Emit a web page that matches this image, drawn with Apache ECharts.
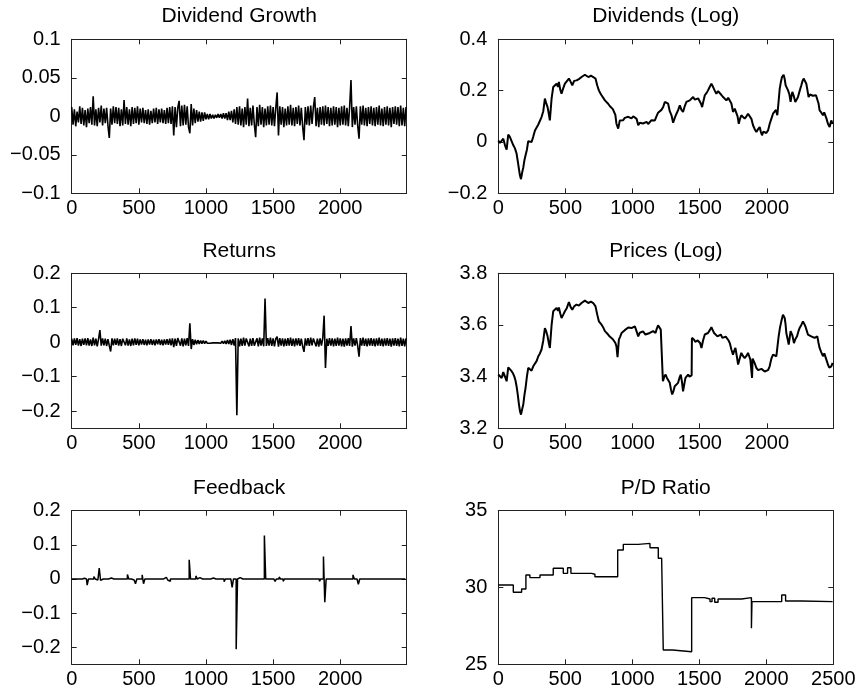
<!DOCTYPE html>
<html>
<head>
<meta charset="utf-8">
<script src="https://cdn.jsdelivr.net/npm/echarts@6/dist/echarts.min.js"></script>
<style>
  html, body { margin: 0; padding: 0; background: #fff; }
  #chart { width: 860px; height: 694px; }
</style>
</head>
<body>
<div id="chart"></div>
<script>
// sample spacing (time steps) of the noisy series below
const step = 10;

const titles = ["Dividend Growth", "Dividends (Log)", "Returns", "Prices (Log)", "Feedback", "P/D Ratio"];
const xTicks = [0, 500, 1000, 1500, 2000];
const xTicksPD = [0, 500, 1000, 1500, 2000, 2500];
const yTicksGrowth = [-0.1, -0.05, 0, 0.05, 0.1];
const yTicksDiv = [-0.2, 0, 0.2, 0.4];
const yTicksRet = [-0.2, -0.1, 0, 0.1, 0.2];
const yTicksPrice = [3.2, 3.4, 3.6, 3.8];
const yTicksPD = [25, 30, 35];

// dividend growth, one value every 10 steps
const growth = [
  .012,-.011,.009,-.013,.006,-.008,.013,-.010,.011,-.012,.008,-.014,.010,-.009,.012,-.011,.026,-.012,.009,-.013,.011,-.008,.014,-.012,.010,
  -.009,.011,-.012,-.028,.010,-.011,.013,-.009,.012,-.010,.011,-.013,.009,-.012,.021,-.010,.012,-.011,.009,-.013,.012,-.010,.011,-.009,.013,
  -.011,.010,-.008,.011,-.009,.008,-.010,.009,-.011,.007,-.009,.010,-.008,.011,-.010,.009,-.008,.010,-.009,.008,-.010,.011,-.009,.012,-.010,
  .013,-.025,.012,-.014,.011,.020,-.013,.014,-.012,.015,-.011,.013,-.014,-.022,.016,-.012,.010,-.009,.008,-.007,.006,-.007,.005,-.006,.005,
  -.004,.003,-.004,.003,-.003,.002,-.003,.002,-.002,.003,-.002,.003,-.003,.004,-.003,.004,-.005,.006,-.005,.007,-.008,.009,-.010,.012,-.011,
  .013,-.012,.010,-.014,.012,-.011,.023,-.013,.011,-.012,.014,-.010,-.027,.012,-.013,.015,-.011,.012,-.014,.010,-.012,.013,-.011,.014,-.012,
  .012,-.013,.011,.031,-.025,.013,-.011,.012,-.014,.010,-.012,.013,-.011,.015,-.012,.011,-.013,.012,-.010,.014,-.012,.011,-.013,-.031,.012,
  -.011,.013,-.012,.014,-.010,.012,.025,-.013,.011,-.014,.012,-.011,.013,-.012,.014,-.010,.012,-.013,.011,-.012,.013,-.011,.012,-.014,.011,
  -.012,.013,-.011,.014,-.012,.011,-.013,.012,.047,-.014,.012,-.011,.013,-.012,-.029,.013,-.011,.014,-.012,.011,-.013,.012,-.010,.013,-.012,
  .011,-.013,.012,-.011,.014,-.012,.010,-.013,.012,-.011,.013,-.012,.011,-.014,.012,-.010,.013,-.011,.012,-.013,.014,-.012,.011,-.013,.012
];

// returns, one value every 10 steps
const returns = [
  .010,-.009,.011,-.008,.012,-.010,.009,-.011,.010,-.008,.011,-.009,.012,-.010,.008,-.011,.013,-.009,.010,-.012,.009,.035,-.010,.011,-.009,
  .010,-.011,.009,-.010,-.027,.011,-.009,.010,-.008,.011,-.010,.009,-.011,.010,.014,-.009,.011,-.010,.008,-.011,.010,-.009,.011,-.008,.010,
  -.009,.008,-.007,.009,-.008,.007,-.009,.008,-.007,.009,-.008,.007,-.009,.008,-.006,.009,-.008,.007,-.009,.008,-.007,.009,-.008,.010,-.009,
  .011,-.014,.010,-.011,.012,.015,-.010,.011,-.012,.010,-.009,.012,-.011,.055,-.020,.009,-.008,.007,-.006,.006,-.005,.005,-.004,.005,-.004,
  .003,-.003,.002,-.003,.002,-.002,.003,-.002,.002,-.002,.003,-.003,.003,-.004,.004,-.005,.006,-.005,.007,-.008,.009,-.010,.012,-.212,.011,
  -.012,.010,-.011,.013,-.010,.011,.015,-.012,.010,-.011,.012,-.010,-.014,.011,-.012,.013,-.010,.011,-.012,.127,-.011,.012,-.010,.013,-.011,
  .011,-.012,.010,.016,-.013,.012,-.010,.011,-.012,.010,-.011,.012,-.010,.013,-.011,.010,-.012,.011,-.009,.012,-.011,.010,-.012,-.028,.011,
  -.010,.012,-.011,.013,-.009,.011,.014,-.012,.010,-.013,.011,-.010,.012,.077,-.075,.010,-.011,.012,-.010,.011,-.012,.010,-.011,.013,-.010,
  .011,-.012,.010,-.013,.011,-.010,.012,-.011,.047,-.013,.011,-.010,.012,-.011,-.042,.012,-.010,.013,-.011,.010,-.012,.011,-.010,.012,-.011,
  .010,-.012,.011,-.010,.013,-.011,.010,-.012,.011,-.010,.012,-.011,.010,-.013,.011,-.010,.012,-.011,.010,-.012,.013,-.011,.010,-.012,.011
];

// feedback, one value every 10 steps
const feedback = [
  0,0,0,0,0,0,0,0,0,0,.002,0,-.018,0,0,0,0,.007,0,-.003,0,.032,-.004,0,0,
  0,-.002,0,0,.003,0,0,.005,0,-.002,0,0,0,0,0,.003,0,.013,0,0,0,-.003,0,-.014,0,
  0,0,0,.012,-.014,0,0,0,0,0,0,0,0,0,0,0,0,0,0,0,.005,0,-.003,-.007,0,
  0,0,0,0,0,0,0,0,0,0,0,0,0,.056,0,0,0,0,.009,0,.004,0,0,0,0,
  0,0,0,0,0,.003,0,0,0,0,0,0,0,0,-.008,0,0,0,0,0,-.025,0,0,-.206,0,
  .004,0,0,0,0,0,0,0,0,0,0,0,0,0,0,0,0,0,0,.127,0,0,0,0,0,
  0,0,-.007,0,0,.006,0,0,-.007,0,0,.004,0,0,0,0,0,0,0,.005,0,0,0,0,0,
  0,0,0,0,0,0,0,0,.003,0,-.007,0,0,.066,-.068,0,0,0,0,0,0,.002,0,0,0,
  0,0,0,0,0,0,0,0,0,0,.012,0,0,0,-.016,0,0,0,0,0,0,0,0,0,0,
  0,0,0,0,0,0,0,0,0,0,0,0,0,0,0,0,0,0,0,0,0,0,0,0,0
];

// log dividends
const divT = [0,12,25,37,50,62,74,86,99,112,124,136,148,161,169,178,186,195,203,213,223,235,248,260,273,285,298,310,322,335,347,357,367,376,384,397,409,420,434,445,451,461,471,484,496,510,526,538,551,565,583,600,620,632,645,657,670,690,707,724,737,749,760,769,782,794,806,818,830,843,853,863,872,880,893,905,918,930,942,955,968,980,992,1005,1017,1030,1042,1054,1066,1078,1091,1104,1116,1128,1141,1153,1166,1178,1190,1203,1215,1228,1240,1252,1265,1277,1290,1302,1315,1327,1340,1352,1364,1376,1389,1401,1414,1426,1439,1451,1464,1476,1488,1500,1509,1518,1528,1538,1550,1562,1575,1587,1600,1612,1624,1637,1649,1662,1674,1687,1699,1712,1724,1736,1748,1761,1773,1782,1791,1800,1810,1822,1835,1848,1860,1872,1885,1897,1910,1922,1935,1947,1955,1964,1974,1984,1996,2009,2021,2034,2046,2058,2068,2078,2088,2096,2105,2113,2125,2133,2140,2150,2158,2168,2177,2184,2190,2200,2212,2222,2232,2245,2257,2266,2274,2284,2294,2303,2311,2321,2331,2343,2356,2366,2376,2385,2393,2405,2418,2427,2435,2445,2455,2462,2468,2475,2480,2490];
const divV = [.006,-.004,-.006,.013,-.013,-.030,.029,.020,.013,-.013,-.025,-.045,-.085,-.130,-.145,-.118,-.100,-.070,-.052,-.030,.003,.010,0,.020,.045,.040,.068,.075,.097,.120,.169,.150,.136,.110,.084,.170,.214,.220,.227,.215,.234,.205,.188,.210,.227,.232,.247,.235,.221,.238,.240,.245,.253,.250,.262,.255,.253,.258,.253,.247,.220,.201,.190,.182,.175,.162,.155,.149,.140,.136,.128,.123,.105,.071,.052,.084,.090,.085,.094,.090,.098,.097,.092,.100,.106,.090,.065,.075,.081,.072,.065,.078,.070,.075,.085,.080,.084,.100,.114,.120,.125,.136,.156,.162,.149,.120,.104,.075,.095,.110,.125,.143,.125,.117,.140,.156,.150,.162,.168,.175,.165,.162,.170,.169,.150,.136,.160,.182,.190,.201,.215,.227,.214,.200,.188,.198,.195,.183,.175,.170,.162,.172,.175,.150,.117,.130,.123,.100,.071,.090,.104,.098,.091,.100,.110,.104,.090,.065,.050,.039,.050,.058,.040,.026,.040,.045,.035,.045,.070,.091,.110,.117,.125,.104,.160,.208,.235,.253,.262,.245,.221,.210,.201,.185,.156,.180,.195,.180,.156,.165,.175,.200,.221,.238,.247,.240,.227,.200,.175,.185,.188,.180,.175,.182,.175,.150,.123,.115,.104,.115,.110,.090,.071,.065,.058,.075,.084,.070];

// log prices
const priceT = [0,12,25,37,50,62,74,86,99,110,119,128,136,145,154,162,169,178,186,195,203,213,223,235,248,260,273,285,298,310,322,335,347,357,367,376,384,397,409,420,434,445,451,461,471,484,496,510,526,538,551,565,583,600,620,632,645,657,670,690,707,716,724,737,749,760,769,782,794,806,818,830,843,853,863,872,880,888,898,908,918,930,942,955,968,980,992,1005,1017,1030,1042,1054,1066,1078,1096,1110,1128,1140,1153,1162,1171,1180,1190,1200,1210,1222,1226,1236,1246,1256,1265,1277,1286,1295,1305,1314,1326,1339,1349,1359,1368,1376,1385,1394,1404,1414,1424,1433,1440,1442,1458,1467,1476,1485,1493,1503,1513,1525,1538,1550,1562,1575,1587,1597,1607,1620,1632,1645,1657,1669,1681,1694,1706,1715,1724,1736,1748,1757,1766,1776,1786,1798,1810,1822,1835,1848,1860,1868,1877,1884,1890,1894,1900,1911,1922,1935,1947,1960,1972,1984,1996,2009,2021,2034,2046,2058,2071,2080,2088,2098,2108,2120,2127,2133,2140,2145,2155,2163,2170,2177,2190,2202,2212,2225,2235,2244,2257,2269,2278,2287,2296,2306,2318,2331,2343,2356,2366,2376,2385,2393,2405,2418,2428,2438,2447,2455,2465,2473,2480,2490];
const priceV = [3.408,3.415,3.395,3.418,3.400,3.382,3.436,3.430,3.421,3.412,3.401,3.385,3.363,3.330,3.292,3.265,3.253,3.275,3.292,3.330,3.356,3.400,3.434,3.440,3.423,3.440,3.447,3.460,3.479,3.490,3.505,3.540,3.588,3.575,3.556,3.530,3.511,3.600,3.653,3.660,3.666,3.655,3.668,3.645,3.627,3.640,3.653,3.665,3.689,3.670,3.659,3.672,3.679,3.675,3.685,3.680,3.694,3.688,3.685,3.690,3.685,3.680,3.672,3.640,3.614,3.608,3.601,3.590,3.576,3.570,3.563,3.555,3.550,3.545,3.543,3.530,3.517,3.475,3.543,3.555,3.569,3.575,3.580,3.582,3.590,3.585,3.588,3.590,3.595,3.575,3.556,3.570,3.576,3.575,3.563,3.570,3.569,3.565,3.576,3.570,3.569,3.585,3.599,3.595,3.582,3.580,3.382,3.400,3.408,3.395,3.401,3.376,3.350,3.331,3.345,3.363,3.370,3.376,3.395,3.408,3.380,3.343,3.370,3.395,3.390,3.408,3.400,3.401,3.405,3.550,3.543,3.535,3.530,3.540,3.543,3.530,3.511,3.540,3.563,3.560,3.569,3.580,3.591,3.580,3.569,3.565,3.556,3.560,3.563,3.550,3.543,3.555,3.550,3.540,3.530,3.505,3.485,3.500,3.511,3.480,3.447,3.470,3.492,3.480,3.472,3.480,3.492,3.480,3.466,3.460,3.395,3.470,3.472,3.450,3.434,3.425,3.421,3.430,3.434,3.420,3.414,3.425,3.440,3.470,3.485,3.490,3.479,3.520,3.556,3.590,3.614,3.640,3.645,3.627,3.600,3.569,3.545,3.524,3.550,3.576,3.560,3.530,3.545,3.556,3.575,3.588,3.600,3.614,3.605,3.595,3.580,3.563,3.560,3.556,3.560,3.550,3.545,3.556,3.530,3.511,3.495,3.479,3.490,3.485,3.460,3.447,3.435,3.428,3.440,3.453];

// price/dividend ratio: level held from each time until the next
const pdT = [0,112,174,206,236,311,410,485,517,542,697,721,891,933,1045,1132,1194,1219,1231,1300,1443,1540,1580,1595,1615,1640,1816,1889,1893,2115,2144,2264,2495];
const pdV = [30.16,29.69,29.90,30.81,30.64,30.81,31.25,30.92,31.29,30.92,30.86,30.70,32.44,32.81,32.87,32.59,31.90,31.79,25.93,25.82,29.34,29.25,29.08,29.30,29.04,29.25,29.34,27.34,29.08,29.51,29.12,29.08,29.08];

const font = "'Liberation Sans', Arial, Helvetica, sans-serif";
const axisColor = "#222";

const panels = [
  { left: 71.7, top: 39.3, height: 154, xMax: 2495, xt: xTicks, yMin: -0.1, yMax: 0.1, yt: yTicksGrowth, titleY: 15.8 },
  { left: 498.3, top: 39.3, height: 154, xMax: 2495, xt: xTicks, yMin: -0.2, yMax: 0.4, yt: yTicksDiv, titleY: 15.8 },
  { left: 71.7, top: 273.3, height: 155, xMax: 2495, xt: xTicks, yMin: -0.25, yMax: 0.2, yt: yTicksRet, titleY: 251.7 },
  { left: 498.3, top: 273.3, height: 155, xMax: 2495, xt: xTicks, yMin: 3.2, yMax: 3.8, yt: yTicksPrice, titleY: 251.7 },
  { left: 71.7, top: 510.7, height: 153.6, xMax: 2495, xt: xTicks, yMin: -0.25, yMax: 0.2, yt: yTicksRet, titleY: 488.3 },
  { left: 498.3, top: 510.7, height: 153.6, xMax: 2500, xt: xTicksPD, yMin: 25, yMax: 35, yt: yTicksPD, titleY: 488.3 },
];
const plotWidth = 335;

const minusFmt = (v) => String(v).replace("-", "\u2212");
const regular = (arr) => arr.map((v, i) => [i * step, v]);
const pairs = (ts, vs) => ts.map((t, i) => [t, vs[i]]);

const grid = [];
const xAxis = [];
const yAxis = [];
const graphic = [];
panels.forEach((p, i) => {
  grid.push({ left: p.left, top: p.top, width: plotWidth, height: p.height, containLabel: false, outerBoundsMode: "none" });
  const xBase = {
    type: "value", gridIndex: i, min: 0, max: p.xMax,
    splitLine: { show: false },
    axisLine: { show: true, onZero: false, lineStyle: { color: axisColor, width: 1 } },
    axisTick: { show: true, inside: true, length: 5, customValues: p.xt, lineStyle: { color: axisColor } },
  };
  xAxis.push(Object.assign({}, xBase, {
    position: "bottom",
    axisLabel: { customValues: p.xt, margin: 5, color: "#000", fontSize: 20, fontFamily: font, formatter: (v) => String(v) },
  }));
  xAxis.push(Object.assign({}, xBase, { position: "top", axisLabel: { show: false } }));
  const yBase = {
    type: "value", gridIndex: i, min: p.yMin, max: p.yMax,
    splitLine: { show: false },
    axisLine: { show: true, onZero: false, lineStyle: { color: axisColor, width: 1 } },
    axisTick: { show: true, inside: true, length: 5, customValues: p.yt, lineStyle: { color: axisColor } },
  };
  yAxis.push(Object.assign({}, yBase, {
    position: "left",
    axisLabel: { customValues: p.yt, margin: 11, color: "#000", fontSize: 20, fontFamily: font, formatter: minusFmt },
  }));
  yAxis.push(Object.assign({}, yBase, { position: "right", axisLabel: { show: false } }));
  graphic.push({
    type: "text", x: p.left + plotWidth / 2, y: p.titleY,
    style: { text: titles[i], fill: "#000", font: "21px " + font, textAlign: "center", textVerticalAlign: "middle" },
  });
});

const lineSeries = (i, data, width, extra) => Object.assign({
  type: "line", xAxisIndex: i * 2, yAxisIndex: i * 2, data,
  symbol: "none", showSymbol: false, animation: false,
  lineStyle: { color: "#000", width },
}, extra || {});

const series = [
  lineSeries(0, regular(growth), 1.6),
  lineSeries(1, pairs(divT, divV), 2),
  lineSeries(2, regular(returns), 1.6),
  lineSeries(3, pairs(priceT, priceV), 2),
  lineSeries(4, regular(feedback), 1.5, { step: "middle" }),
  lineSeries(5, pairs(pdT, pdV), 1.4, { step: "end" }),
];

const chart = echarts.init(document.getElementById("chart"), null, { renderer: "canvas" });
chart.setOption({
  backgroundColor: "#fff",
  animation: false,
  textStyle: { fontFamily: font },
  grid, xAxis, yAxis, series, graphic,
});
</script>
</body>
</html>
